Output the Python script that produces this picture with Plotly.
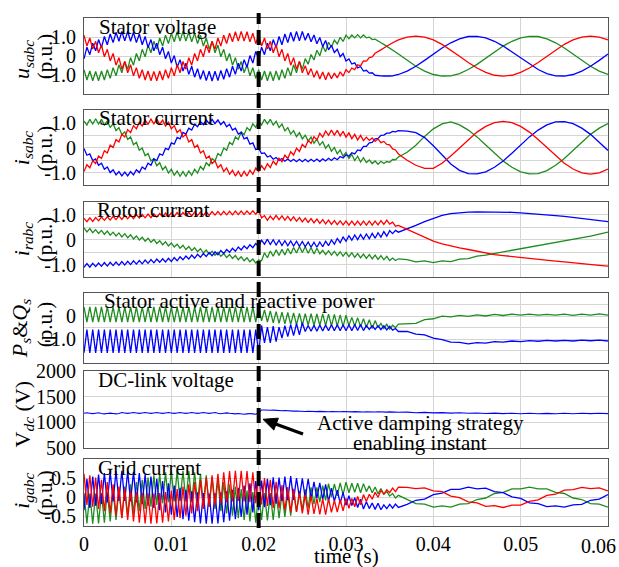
import plotly.graph_objects as go

# ---------------- sampling instants (s) ----------------
t_fine = [k / 3000 for k in range(109)]          # 0 ... 0.036 s
t_tail = [0.037 + 0.001 * j for j in range(24)]   # 0.037 ... 0.060 s
time_s = t_fine + t_tail

# ---------------- stator voltage (p.u.) ----------------
u_a = [1.10,.53,.95,.37,.78,.18,.58,-.03,.36,-.25,
       .14,-.47,-.08,-.68,-.28,-.87,-.45,-1.03,-.60,-1.16,
       -.71,-1.25,-.78,-1.29,-.80,-1.29,-.78,-1.25,-.71,-1.16,
       -.60,-1.03,-.45,-.87,-.28,-.68,-.08,-.47,.14,-.25,
       .36,-.03,.58,.18,.78,.37,.95,.53,1.10,.66,
       1.21,.75,1.28,.79,1.30,.79,1.28,.75,1.21,.66,
       1.10,.53,.95,.37,.78,.18,.58,-.03,.36,-.25,
       .14,-.47,-.08,-.68,-.28,-.87,-.50,-.98,-.65,-1.11,
       -.76,-1.20,-.83,-1.24,-.85,-1.18,-.89,-1.14,-.82,-1.05,
       -.71,-.86,-.62,-.70,-.45,-.51,-.25,-.26,-.07,-.04,
       .15,.22,.33,.43,.53,.62,.70,.78,.85,
       1.00,1.05,1.00,.85,.62,.33,0,-.33,-.62,-.85,-1.00,-1.05,-1.00,-.85,-.62,-.33,0,.33,.62,.85,1.00,1.05,1.00,.85]
u_b = [-.14,.47,.08,.68,.28,.87,.45,1.03,.60,1.16,
       .71,1.25,.78,1.29,.80,1.29,.78,1.25,.71,1.16,
       .60,1.03,.45,.87,.28,.68,.08,.47,-.14,.25,
       -.36,.03,-.58,-.18,-.78,-.37,-.95,-.53,-1.10,-.66,
       -1.21,-.75,-1.28,-.79,-1.30,-.79,-1.28,-.75,-1.21,-.66,
       -1.10,-.53,-.95,-.37,-.78,-.18,-.58,.03,-.36,.25,
       -.14,.47,.08,.68,.28,.87,.45,1.03,.60,1.16,
       .71,1.25,.78,1.29,.80,1.29,.83,1.20,.76,1.11,
       .65,.98,.50,.82,.33,.57,.19,.36,-.03,.14,
       -.25,-.14,-.41,-.35,-.61,-.54,-.78,-.74,-.89,-.87,
       -1.00,-1.00,-1.03,-1.04,-1.05,-1.04,-1.03,-1.00,-.96,
       -.78,-.53,-.22,.11,.43,.70,.91,1.03,1.04,.96,.78,.53,.22,-.11,-.43,-.70,-.91,-1.03,-1.04,-.96,-.78,-.53,-.22,.11]
u_c = [-.71,-1.25,-.78,-1.29,-.80,-1.29,-.78,-1.25,-.71,-1.16,
       -.60,-1.03,-.45,-.87,-.28,-.68,-.08,-.47,.14,-.25,
       .36,-.03,.58,.18,.78,.37,.95,.53,1.10,.66,
       1.21,.75,1.28,.79,1.30,.79,1.28,.75,1.21,.66,
       1.10,.53,.95,.37,.78,.18,.58,-.03,.36,-.25,
       .14,-.47,-.08,-.68,-.28,-.87,-.45,-1.03,-.60,-1.16,
       -.71,-1.25,-.78,-1.29,-.80,-1.29,-.78,-1.25,-.71,-1.16,
       -.60,-1.03,-.45,-.87,-.28,-.68,-.13,-.42,.09,-.20,
       .31,.02,.53,.23,.73,.48,.84,.64,.99,.77,
       1.10,.92,1.11,.96,1.13,.96,1.11,.96,1.00,.87,
       .89,.78,.70,.62,.53,.43,.33,.22,.11,
       -.22,-.53,-.78,-.96,-1.04,-1.03,-.91,-.70,-.43,-.11,.22,.53,.78,.96,1.04,1.03,.91,.70,.43,.11,-.22,-.53,-.78,-.96]

# ---------------- stator current (p.u.) ----------------
is_a = [-.95,-.68,-.80,-.52,-.63,-.33,-.43,-.12,-.21,.10,
        .01,.32,.23,.53,.43,.72,.60,.88,.75,1.01,
        .86,1.10,.93,1.14,.95,1.14,.93,1.10,.86,1.01,
        .75,.88,.60,.72,.43,.53,.23,.32,.01,.10,
        -.21,-.12,-.43,-.33,-.63,-.52,-.80,-.68,-.95,-.81,
        -1.06,-.90,-1.13,-.94,-1.15,-.94,-1.13,-.90,-1.06,-.81,
        -.95,-.72,-.88,-.64,-.79,-.54,-.68,-.42,-.56,-.30,
        -.43,-.16,-.29,-.02,-.15,.13,.01,.29,.17,.44,
        .31,.57,.42,.66,.49,.70,.50,.69,.47,.65,
        .42,.59,.36,.53,.31,.49,.28,.42,.29,.39,
        .25,.35,.20,.25,.13,.11,-.05,-.09,-.25,
        -.50,-.70,-.82,-.82,-.62,-.33,0,.33,.62,.85,1.00,1.05,1.00,.85,.62,.33,0,-.33,-.62,-.85,-1.00,-1.05,-1.00,-.85]
is_b = [-.03,-.30,-.25,-.51,-.45,-.70,-.62,-.86,-.77,-.99,
        -.88,-1.08,-.95,-1.12,-.97,-1.12,-.95,-1.08,-.88,-.99,
        -.77,-.86,-.62,-.70,-.45,-.51,-.25,-.30,-.03,-.08,
        .19,.14,.41,.35,.61,.54,.78,.70,.93,.83,
        1.04,.92,1.11,.96,1.13,.96,1.11,.92,1.04,.83,
        .93,.70,.78,.54,.61,.35,.41,.14,.19,-.08,
        -.03,-.23,-.21,-.37,-.32,-.46,-.39,-.51,-.43,-.54,
        -.45,-.55,-.46,-.56,-.46,-.56,-.46,-.56,-.46,-.55,
        -.45,-.55,-.44,-.53,-.42,-.51,-.40,-.48,-.35,-.41,
        -.28,-.34,-.20,-.25,-.09,-.12,.05,.05,.19,.21,
        .35,.37,.49,.50,.58,.58,.65,.63,.68,
        .66,.60,.40,.08,-.30,-.65,-.90,-1.03,-1.04,-.96,-.78,-.53,-.22,.11,.43,.70,.91,1.03,1.04,.96,.78,.53,.22,-.11]
is_c = [1.06,.90,1.13,.94,1.15,.94,1.13,.90,1.06,.81,
        .95,.68,.80,.52,.63,.33,.43,.12,.21,-.10,
        -.01,-.32,-.23,-.53,-.43,-.72,-.60,-.88,-.75,-1.01,
        -.86,-1.10,-.93,-1.14,-.95,-1.14,-.93,-1.10,-.86,-1.01,
        -.75,-.88,-.60,-.72,-.43,-.53,-.23,-.32,-.01,-.10,
        .21,.12,.43,.33,.63,.52,.80,.68,.95,.81,
        1.06,.90,1.13,.95,1.13,.90,1.05,.80,.94,.67,
        .80,.54,.68,.44,.60,.35,.50,.26,.42,.18,
        .34,.10,.24,-.02,.12,-.14,.01,-.24,-.09,-.34,
        -.19,-.43,-.27,-.51,-.34,-.57,-.40,-.59,-.49,-.63,
        -.53,-.66,-.54,-.63,-.55,-.58,-.47,-.48,-.37,
        -.18,.10,.45,.75,.95,1.03,.91,.70,.43,.11,-.22,-.53,-.78,-.96,-1.04,-1.03,-.91,-.70,-.43,-.11,.22,.53,.78,.96]

# ---------------- rotor current (p.u.) ----------------
ir_a = [.85,.72,.87,.73,.88,.75,.90,.77,.91,.78,
        .93,.80,.95,.81,.96,.83,.98,.84,.99,.86,
        1.00,.87,1.02,.88,1.03,.90,1.04,.91,1.06,.92,
        1.07,.93,1.08,.94,1.08,.95,1.09,.95,1.10,.96,
        1.10,.97,1.11,.97,1.12,.98,1.12,.98,1.13,.99,
        1.13,.99,1.14,1.00,1.14,1.00,1.14,1.01,1.15,1.01,
        1.15,.87,.96,.77,.94,.80,.97,.80,.95,.78,
        .93,.76,.91,.74,.88,.71,.86,.69,.84,.67,
        .82,.65,.80,.63,.78,.61,.76,.60,.75,.59,
        .74,.58,.74,.58,.74,.58,.74,.58,.74,.58,
        .74,.59,.76,.61,.78,.62,.70,.54,.57,
        .42,.26,.10,-.06,-.17,-.26,-.33,-.39,-.46,-.53,-.59,-.63,-.67,-.71,-.75,-.78,-.81,-.85,-.88,-.92,-.95,-.99,-1.02,-1.05]
ir_b = [-1.10,-.95,-1.09,-.94,-1.07,-.93,-1.06,-.91,-1.05,-.90,
        -1.03,-.89,-1.02,-.87,-1.01,-.86,-.99,-.84,-.97,-.83,
        -.96,-.81,-.94,-.79,-.92,-.77,-.90,-.76,-.89,-.74,
        -.87,-.71,-.84,-.68,-.80,-.65,-.77,-.61,-.74,-.58,
        -.70,-.55,-.67,-.51,-.64,-.48,-.60,-.43,-.55,-.39,
        -.50,-.34,-.46,-.29,-.41,-.25,-.36,-.20,-.32,-.15,
        -.27,-.02,-.18,.02,-.19,.00,-.21,-.02,-.23,-.04,
        -.24,-.05,-.25,-.06,-.26,-.07,-.28,-.09,-.30,-.10,
        -.30,-.09,-.28,-.06,-.24,-.01,-.18,.05,-.12,.11,
        -.06,.16,-.02,.19,.00,.21,.02,.23,.04,.25,
        .06,.28,.10,.32,.14,.36,.24,.37,.30,
        .42,.57,.72,.86,.97,1.04,1.08,1.10,1.11,1.11,1.10,1.10,1.09,1.07,1.05,1.02,.99,.96,.93,.89,.85,.81,.77,.72]
ir_c = [.47,.31,.44,.28,.40,.25,.37,.21,.34,.18,
        .30,.15,.27,.11,.24,.08,.20,.03,.15,-.01,
        .10,-.06,.06,-.10,.01,-.15,-.04,-.20,-.08,-.25,
        -.13,-.29,-.18,-.34,-.22,-.39,-.27,-.43,-.32,-.48,
        -.36,-.53,-.41,-.57,-.46,-.62,-.50,-.66,-.55,-.71,
        -.59,-.75,-.63,-.80,-.68,-.84,-.72,-.88,-.77,-.93,
        -.81,-.84,-.52,-.72,-.45,-.66,-.40,-.63,-.38,-.61,
        -.35,-.57,-.31,-.53,-.27,-.51,-.28,-.54,-.31,-.57,
        -.34,-.56,-.42,-.59,-.44,-.61,-.46,-.63,-.48,-.65,
        -.50,-.67,-.52,-.70,-.55,-.72,-.57,-.74,-.59,-.76,
        -.61,-.78,-.63,-.80,-.66,-.83,-.73,-.83,-.76,
        -.79,-.88,-.84,-.91,-.84,-.87,-.77,-.75,-.65,-.61,-.55,-.49,-.43,-.37,-.31,-.25,-.19,-.13,-.07,0,.07,.14,.22,.30]

# ---------------- stator active / reactive power (p.u.) ----------------
q_s = [.40,-.26,.40,-.26,.40,-.26,.40,-.26,.40,-.26,
       .40,-.26,.40,-.26,.40,-.26,.40,-.26,.40,-.26,
       .40,-.26,.40,-.26,.40,-.26,.40,-.26,.40,-.26,
       .40,-.26,.40,-.26,.40,-.26,.40,-.26,.40,-.26,
       .40,-.26,.40,-.26,.40,-.26,.40,-.26,.40,-.26,
       .40,-.26,.40,-.26,.40,-.26,.40,-.26,.40,-.26,
       .40,-.20,.27,-.25,.23,-.29,.20,-.31,.18,-.33,
       .16,-.35,.14,-.37,.12,-.39,.11,-.39,.11,-.40,
       .10,-.40,.10,-.41,.09,-.42,.08,-.43,.06,-.45,
       .04,-.40,-.05,-.42,-.07,-.45,-.11,-.49,-.15,-.53,
       -.19,-.49,-.31,-.53,-.35,-.56,-.39,-.49,-.34,
       -.33,-.31,-.15,-.11,.00,-.03,.04,-.01,.06,.01,.08,.03,.09,.05,.09,.05,.08,.05,.09,.04,.09,.05,.10,.05]
p_s = [-1.58,-.58,-1.58,-.58,-1.58,-.58,-1.58,-.58,-1.58,-.58,
       -1.58,-.58,-1.58,-.58,-1.58,-.58,-1.58,-.58,-1.58,-.58,
       -1.58,-.58,-1.58,-.58,-1.58,-.58,-1.58,-.58,-1.58,-.58,
       -1.58,-.58,-1.58,-.58,-1.58,-.58,-1.58,-.58,-1.58,-.58,
       -1.58,-.58,-1.58,-.58,-1.58,-.58,-1.58,-.58,-1.58,-.58,
       -1.58,-.58,-1.58,-.58,-1.58,-.58,-1.58,-.58,-1.58,-.58,
       -1.58,-.40,-1.15,-.47,-1.15,-.43,-1.10,-.47,-.94,-.41,
       -.88,-.36,-.84,-.32,-.80,-.29,-.66,-.40,-.65,-.39,
       -.65,-.38,-.64,-.38,-.63,-.37,-.63,-.37,-.63,-.37,
       -.63,-.37,-.63,-.36,-.62,-.36,-.62,-.41,-.57,-.41,
       -.57,-.41,-.58,-.42,-.59,-.44,-.60,-.53,-.66,
       -.66,-.77,-.81,-.95,-1.01,-1.12,-1.13,-1.19,-1.14,-1.16,-1.10,-1.12,-1.07,-1.10,-1.05,-1.08,-1.04,-1.07,-1.04,-1.07,-1.03,-1.06,-1.03,-1.07]

# ---------------- DC-link voltage (V) ----------------
v_dc = [1178,1186,1178,1170,1178,1186,1172,1164,1172,1180,
        1172,1164,1172,1190,1182,1174,1182,1190,1182,1174,
        1182,1190,1182,1174,1182,1190,1182,1174,1182,1190,
        1182,1174,1182,1190,1182,1174,1182,1190,1182,1174,
        1182,1190,1182,1174,1182,1190,1176,1168,1176,1184,
        1176,1168,1165,1173,1165,1157,1165,1173,1165,1157,
        1185,1241,1240,1232,1235,1238,1230,1222,1226,1230,
        1222,1214,1218,1222,1214,1206,1211,1216,1210,1203,
        1209,1214,1208,1201,1207,1212,1206,1199,1205,1211,
        1205,1198,1204,1209,1203,1196,1202,1207,1201,1194,
        1200,1205,1199,1192,1198,1203,1197,1190,1195,
        1198,1188,1194,1184,1190,1180,1186,1176,1182,1172,1179,1170,1177,1168,1176,1167,1175,1167,1176,1168,1177,1169,1177,1170]

# ---------------- grid current (p.u.) ----------------
ig_a = [.62,-.20,.58,-.25,.52,-.31,.46,-.37,.40,-.43,
        .34,-.49,.28,-.55,.22,-.60,.18,-.64,.14,-.67,
        .11,-.69,.10,-.70,.10,-.69,.11,-.67,.14,-.64,
        .18,-.60,.22,-.55,.28,-.49,.34,-.43,.40,-.37,
        .46,-.31,.52,-.25,.58,-.20,.62,-.16,.66,-.13,
        .69,-.11,.70,-.10,.70,-.11,.69,-.13,.66,-.16,
        .62,-.19,.51,-.23,.46,-.28,.41,-.29,.32,-.35,
        .27,-.40,.22,-.39,.11,-.43,.07,-.46,.04,-.44,
        -.03,-.45,-.04,-.46,-.04,-.40,-.08,-.39,-.06,-.36,
        -.03,-.29,-.03,-.25,.02,-.20,.07,-.11,.08,-.05,
        .13,.00,.18,.08,.20,.12,.24,.15,.27,
        .26,.23,.25,.17,.15,.03,-.01,-.12,-.15,-.24,-.22,-.27,-.21,-.21,-.11,-.07,.05,.08,.19,.20,.26,.23,.25,.17]
ig_b = [-.34,.49,-.28,.55,-.22,.60,-.18,.64,-.14,.67,
        -.11,.69,-.10,.70,-.10,.69,-.11,.67,-.14,.64,
        -.18,.60,-.22,.55,-.28,.49,-.34,.43,-.40,.37,
        -.46,.31,-.52,.25,-.58,.20,-.62,.16,-.66,.13,
        -.69,.11,-.70,.10,-.70,.11,-.69,.13,-.66,.16,
        -.62,.20,-.58,.25,-.52,.31,-.46,.37,-.40,.43,
        -.34,.44,-.26,.49,-.21,.53,-.17,.52,-.10,.55,
        -.08,.56,-.07,.51,-.01,.50,-.02,.49,-.04,.41,
        -.02,.38,-.06,.34,-.11,.24,-.11,.19,-.16,.13,
        -.21,.04,-.22,-.01,-.27,-.05,-.31,-.12,-.30,-.15,
        -.32,-.16,-.33,-.20,-.30,-.19,-.29,-.18,-.27,
        -.19,-.08,-.05,.07,.11,.21,.21,.27,.22,.24,.15,.12,.01,-.03,-.15,-.17,-.25,-.23,-.26,-.20,-.19,-.08,-.05,.07]
ig_c = [.11,-.69,.10,-.70,.10,-.69,.11,-.67,.14,-.64,
        .18,-.60,.22,-.55,.28,-.49,.34,-.43,.40,-.37,
        .46,-.31,.52,-.25,.58,-.20,.62,-.16,.66,-.13,
        .69,-.11,.70,-.10,.70,-.11,.69,-.13,.66,-.16,
        .62,-.20,.58,-.25,.52,-.31,.46,-.37,.40,-.43,
        .34,-.49,.28,-.55,.22,-.60,.18,-.64,.14,-.67,
        .11,-.60,.11,-.61,.11,-.60,.12,-.55,.10,-.52,
        .13,-.49,.17,-.39,.16,-.34,.21,-.29,.26,-.18,
        .26,-.13,.31,-.08,.36,.01,.35,.04,.38,.07,
        .40,.12,.37,.13,.37,.12,.36,.15,.30,.12,
        .27,.09,.23,.08,.15,.03,.10,-.02,.05,
        -.06,-.17,-.18,-.26,-.23,-.26,-.18,-.17,-.06,-.02,.10,.13,.22,.22,.27,.22,.22,.13,.10,-.02,-.06,-.17,-.18,-.26]

# ---------------- axis labels / ticks ----------------
x_ticks = [0, 0.01, 0.02, 0.03, 0.04, 0.05]
x_tick_text = ["0", "0.01", "0.02", "0.03", "0.04", "0.05"]
x_last_tick_text = "0.06"
panel_titles = ["Stator voltage", "Stator current", "Rotor current",
                "Stator active and reactive power", "DC-link voltage", "Grid current"]
event_time = 0.02

# ---------------- styling / layout ----------------
RED, BLUE, GREEN = "#ff0000", "#0000ff", "rgb(30,140,30)"
GRID, FRAME = "#d4d4d4", "#555555"
FONT = "Liberation Serif"
W, H = 619, 567
ML, MR, MT, MB = 84, 11, 7, 41
PW, PH = W - ML - MR, H - MT - MB


def px(x):
    return (x - ML) / PW


def py(y):
    return (H - MB - y) / PH


def clamp(v):
    return min(1.0, max(0.0, v))


panel_px = [(7, 85), (101, 178), (195, 272), (288, 359), (368, 446), (458, 526)]
y_ranges = [[-2, 2], [-1.5, 1.5], [-1.5, 1.5], [-2, 1], [500, 2000], [-0.76, 1.0]]
y_tickvals = [[-1, 0, 1], [-1, 0, 1], [-1, 0, 1], [-1, 0], [500, 1000, 1500, 2000], [-0.5, 0, 0.5]]
y_ticktext = [["-1.0", "0", "1.0"], ["-1.0", "0", "1.0"], ["-1.0", "0", "1.0"],
              ["-1.0", "0"], ["500", "1000", "1500", "2000"], ["-0.5", "0", "0.5"]]
y_minor_grid = [[], [-0.5, 0.5], [-0.5, 0.5], [-1.5, -0.5, 0.5], [], []]

series = [
    (1, u_c, GREEN), (1, u_b, BLUE), (1, u_a, RED),
    (2, is_c, GREEN), (2, is_b, BLUE), (2, is_a, RED),
    (3, ir_c, GREEN), (3, ir_b, BLUE), (3, ir_a, RED),
    (4, q_s, GREEN), (4, p_s, BLUE),
    (5, v_dc, BLUE),
    (6, ig_c, GREEN), (6, ig_b, BLUE), (6, ig_a, RED),
]

fig = go.Figure()
for idx, ydata, color in series:
    n = min(len(time_s), len(ydata))
    suffix = "" if idx == 1 else str(idx)
    fig.add_trace(go.Scatter(
        x=time_s[:n], y=ydata[:n], mode="lines",
        line=dict(color=color, width=1.3 if idx != 5 else 1.1),
        xaxis="x" + suffix, yaxis="y" + suffix,
        showlegend=False, hoverinfo="skip"))

layout = dict(
    width=W, height=H,
    margin=dict(l=ML, r=MR, t=MT, b=MB, pad=0),
    paper_bgcolor="white", plot_bgcolor="white",
    font=dict(family=FONT, size=20, color="black"),
    showlegend=False,
)
for i in range(6):
    suffix = "" if i == 0 else str(i + 1)
    top, bot = panel_px[i]
    layout["xaxis" + suffix] = dict(
        domain=[0, 1], range=[0, 0.06], anchor="y" + suffix,
        tickvals=x_ticks, ticktext=x_tick_text, showticklabels=(i == 5),
        showgrid=True, gridcolor=GRID, gridwidth=1, zeroline=False,
        showline=True, mirror=True, linecolor=FRAME, linewidth=1,
        ticks="", ticklen=0, tickfont=dict(family=FONT, size=20))
    ya = dict(
        domain=[clamp(py(bot)), clamp(py(top))], range=y_ranges[i], anchor="x" + suffix,
        tickvals=y_tickvals[i], ticktext=y_ticktext[i],
        showgrid=True, gridcolor=GRID, gridwidth=1, zeroline=False,
        showline=True, mirror=True, linecolor=FRAME, linewidth=1,
        ticks="", ticklen=0, tickfont=dict(family=FONT, size=20), ticklabelstandoff=3)
    if y_minor_grid[i]:
        ya["minor"] = dict(tickvals=y_minor_grid[i], showgrid=True, gridcolor=GRID,
                           gridwidth=1, ticks="")
    layout["yaxis" + suffix] = ya
fig.update_layout(**layout)

ann = []
title_pos = [(97, 16), (97, 109), (95, 203), (102, 296), (96, 377), (96, 467)]
for (tx, ty), txt in zip(title_pos, panel_titles):
    ann.append(dict(text=txt, x=px(tx), y=py(ty), xref="paper", yref="paper",
                    xanchor="left", yanchor="middle", showarrow=False,
                    font=dict(family=FONT, size=21, color="black")))

ylabels = [
    ("<i>u</i><sub><i>sabc</i></sub>", 23, 50),
    ("<i>i</i><sub><i>sabc</i></sub>", 23, 140),
    ("<i>i</i><sub><i>rabc</i></sub>", 23, 233),
    ("<i>P</i><sub><i>s</i></sub>&amp;<i>Q</i><sub><i>s</i></sub>", 21, 325),
    ("V<sub><i>dc</i></sub> (V)", 24, 412),
    ("<i>i</i><sub><i>gabc</i></sub>", 23, 490),
]
for txt, lx, ly in ylabels:
    ann.append(dict(text=txt, x=px(lx), y=py(ly), xref="paper", yref="paper",
                    xanchor="center", yanchor="middle", textangle=-90, showarrow=False,
                    font=dict(family=FONT, size=22, color="black")))
for ly in [46, 140, 233, 320, 492]:
    ann.append(dict(text="(p.u.)", x=px(45), y=py(ly), xref="paper", yref="paper",
                    xanchor="center", yanchor="middle", textangle=-90, showarrow=False,
                    font=dict(family=FONT, size=21, color="black")))

# last x tick label kept inside the page, as in the reference
ann.append(dict(text=x_last_tick_text, x=px(618), y=py(546), xref="paper", yref="paper",
                xanchor="right", yanchor="middle", showarrow=False,
                font=dict(family=FONT, size=20, color="black")))
ann.append(dict(text="time (s)", x=px(346), y=py(557), xref="paper", yref="paper",
                xanchor="center", yanchor="middle", showarrow=False,
                font=dict(family=FONT, size=21, color="black")))
ann.append(dict(text="Active damping strategy", x=px(420), y=py(421), xref="paper", yref="paper",
                xanchor="center", yanchor="middle", showarrow=False,
                font=dict(family=FONT, size=21, color="black")))
ann.append(dict(text="enabling instant", x=px(420), y=py(441), xref="paper", yref="paper",
                xanchor="center", yanchor="middle", showarrow=False,
                font=dict(family=FONT, size=21, color="black")))
fig.update_layout(annotations=ann)

# dashed event marker
fig.add_shape(type="line", xref="x", yref="paper", x0=event_time, x1=event_time,
              y0=py(528), y1=py(2), line=dict(color="black", width=4, dash="15px,6px"),
              layer="above")

# arrow pointing at the enabling instant (shaft + filled head)
tail, tip = (303, 432), (263, 417)
dxv, dyv = tip[0] - tail[0], tip[1] - tail[1]
ln = (dxv ** 2 + dyv ** 2) ** 0.5
ux, uy = dxv / ln, dyv / ln
head_len, half_w = 14, 6.5
bx, by = tip[0] - head_len * ux, tip[1] - head_len * uy
c1 = (bx - half_w * uy, by + half_w * ux)
c2 = (bx + half_w * uy, by - half_w * ux)
fig.add_shape(type="line", xref="paper", yref="paper",
              x0=px(tail[0]), y0=py(tail[1]), x1=px(bx + 2 * ux), y1=py(by + 2 * uy),
              line=dict(color="black", width=3.2), layer="above")
fig.add_shape(type="path", xref="paper", yref="paper",
              path="M {:.5f},{:.5f} L {:.5f},{:.5f} L {:.5f},{:.5f} Z".format(
                  px(tip[0]), py(tip[1]), px(c1[0]), py(c1[1]), px(c2[0]), py(c2[1])),
              fillcolor="black", line=dict(color="black", width=1), layer="above")

fig.write_html("out.html", config={"displayModeBar": False},
               post_script="document.body.style.margin='0px';")
